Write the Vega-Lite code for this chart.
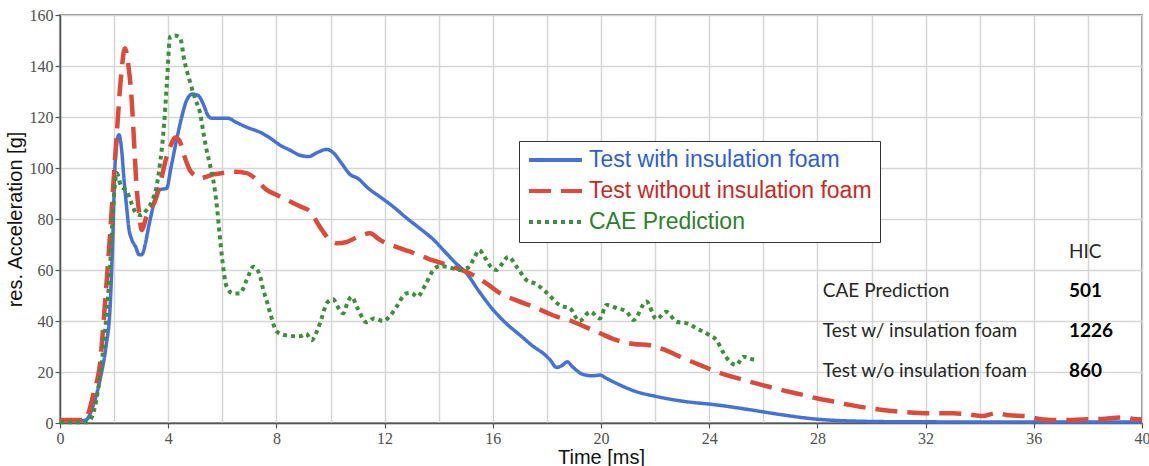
{
  "$schema": "https://vega.github.io/schema/vega-lite/v6.json",
  "width": 1082,
  "height": 408,
  "autosize": {"type": "none"},
  "padding": {"left": 60, "top": 15, "right": 7, "bottom": 43},
  "background": "white",
  "config": {
    "view": {"stroke": "#8c8c8c", "strokeWidth": 2},
    "axis": {
      "gridColor": "#d6d6d6",
      "gridWidth": 1.5,
      "domainColor": "#555555",
      "domainWidth": 1.5,
      "tickColor": "#555555",
      "tickWidth": 1.2,
      "tickSize": 5,
      "labelFont": "Liberation Sans Narrow",
      "labelFontSize": 16,
      "labelColor": "#505050",
      "labelPadding": 2,
      "titleFont": "Liberation Sans",
      "titleFontSize": 20,
      "titleFontWeight": "normal",
      "titleColor": "#111111"
    }
  },
  "datasets": {
    "blue": [
      {"time": 0, "acc": 1}, {"time": 0.9, "acc": 1}, {"time": 1.0, "acc": 1.5}, {"time": 1.2, "acc": 6}, {"time": 1.48, "acc": 17},
      {"time": 1.7, "acc": 30}, {"time": 1.85, "acc": 45}, {"time": 1.95, "acc": 72}, {"time": 2.03, "acc": 100}, {"time": 2.1, "acc": 110},
      {"time": 2.18, "acc": 113}, {"time": 2.28, "acc": 107}, {"time": 2.37, "acc": 95}, {"time": 2.46, "acc": 85}, {"time": 2.55, "acc": 76},
      {"time": 2.65, "acc": 72}, {"time": 2.8, "acc": 69}, {"time": 2.92, "acc": 66}, {"time": 3.02, "acc": 66}, {"time": 3.15, "acc": 70},
      {"time": 3.26, "acc": 76}, {"time": 3.4, "acc": 83}, {"time": 3.57, "acc": 90}, {"time": 3.7, "acc": 91.5}, {"time": 3.94, "acc": 92},
      {"time": 4.1, "acc": 100}, {"time": 4.31, "acc": 111}, {"time": 4.5, "acc": 120}, {"time": 4.68, "acc": 126.5}, {"time": 4.9, "acc": 129},
      {"time": 5.1, "acc": 128.5}, {"time": 5.3, "acc": 125}, {"time": 5.45, "acc": 121}, {"time": 5.6, "acc": 119.5}, {"time": 6.0, "acc": 119.5},
      {"time": 6.2, "acc": 119.5}, {"time": 6.5, "acc": 118}, {"time": 6.9, "acc": 116}, {"time": 7.4, "acc": 114}, {"time": 7.8, "acc": 111.5},
      {"time": 8.13, "acc": 109}, {"time": 8.5, "acc": 107}, {"time": 8.87, "acc": 105}, {"time": 9.2, "acc": 104.5}, {"time": 9.5, "acc": 106},
      {"time": 9.86, "acc": 107.3}, {"time": 10.1, "acc": 106}, {"time": 10.4, "acc": 102}, {"time": 10.72, "acc": 97.5}, {"time": 11.0, "acc": 96},
      {"time": 11.4, "acc": 92}, {"time": 11.83, "acc": 88.7}, {"time": 12.3, "acc": 85}, {"time": 12.8, "acc": 80.5}, {"time": 13.4, "acc": 75.5},
      {"time": 13.8, "acc": 72}, {"time": 14.2, "acc": 67.5}, {"time": 14.6, "acc": 63}, {"time": 15.03, "acc": 58.7}, {"time": 15.5, "acc": 51.5},
      {"time": 16.02, "acc": 44.3}, {"time": 16.5, "acc": 39}, {"time": 17.0, "acc": 34.5}, {"time": 17.5, "acc": 30}, {"time": 17.9, "acc": 27},
      {"time": 18.1, "acc": 25}, {"time": 18.36, "acc": 21.8}, {"time": 18.55, "acc": 22.5}, {"time": 18.75, "acc": 24}, {"time": 18.95, "acc": 22},
      {"time": 19.35, "acc": 19}, {"time": 19.7, "acc": 18.5}, {"time": 19.96, "acc": 18.8}, {"time": 20.2, "acc": 17.5}, {"time": 20.58, "acc": 15.5},
      {"time": 21.3, "acc": 12.3}, {"time": 22.0, "acc": 10.5}, {"time": 23.05, "acc": 8.5}, {"time": 24.27, "acc": 7.1}, {"time": 25.5, "acc": 5.2},
      {"time": 26.7, "acc": 3.2}, {"time": 27.97, "acc": 1.5}, {"time": 29.2, "acc": 0.8}, {"time": 31, "acc": 0.5}, {"time": 35, "acc": 0.4},
      {"time": 40, "acc": 0.4}
    ],
    "red": [
      {"time": 0, "acc": 1.2}, {"time": 0.95, "acc": 1.2}, {"time": 1.05, "acc": 3.8}, {"time": 1.25, "acc": 12}, {"time": 1.48, "acc": 23.4},
      {"time": 1.65, "acc": 45}, {"time": 1.85, "acc": 74}, {"time": 2.0, "acc": 98}, {"time": 2.1, "acc": 113.6}, {"time": 2.25, "acc": 135},
      {"time": 2.4, "acc": 147}, {"time": 2.52, "acc": 141}, {"time": 2.65, "acc": 126.7}, {"time": 2.75, "acc": 108}, {"time": 2.83, "acc": 92.7},
      {"time": 2.93, "acc": 82}, {"time": 3.02, "acc": 75.7}, {"time": 3.2, "acc": 81}, {"time": 3.57, "acc": 88.7}, {"time": 3.75, "acc": 96},
      {"time": 3.94, "acc": 104.4}, {"time": 4.1, "acc": 109}, {"time": 4.25, "acc": 112}, {"time": 4.4, "acc": 111}, {"time": 4.5, "acc": 108.4},
      {"time": 4.65, "acc": 103}, {"time": 4.8, "acc": 99.2}, {"time": 5.0, "acc": 97}, {"time": 5.18, "acc": 96}, {"time": 5.4, "acc": 96.5},
      {"time": 5.67, "acc": 97.5}, {"time": 6.0, "acc": 98}, {"time": 6.4, "acc": 98.5}, {"time": 6.9, "acc": 98}, {"time": 7.2, "acc": 96},
      {"time": 7.64, "acc": 91.4}, {"time": 8.0, "acc": 89.5}, {"time": 8.38, "acc": 87.5}, {"time": 8.87, "acc": 85}, {"time": 9.24, "acc": 83},
      {"time": 9.6, "acc": 77}, {"time": 9.98, "acc": 71.8}, {"time": 10.23, "acc": 70.5}, {"time": 10.6, "acc": 71}, {"time": 11.0, "acc": 73},
      {"time": 11.46, "acc": 74.4}, {"time": 11.8, "acc": 72}, {"time": 12.07, "acc": 70.5}, {"time": 12.5, "acc": 68.8}, {"time": 12.94, "acc": 67.2},
      {"time": 13.6, "acc": 64.5}, {"time": 14.3, "acc": 62}, {"time": 15.28, "acc": 58}, {"time": 15.8, "acc": 54.5}, {"time": 16.27, "acc": 50.9},
      {"time": 16.9, "acc": 48}, {"time": 17.5, "acc": 45.6}, {"time": 18.36, "acc": 41.7}, {"time": 18.9, "acc": 40}, {"time": 19.35, "acc": 38},
      {"time": 19.96, "acc": 35.2}, {"time": 20.58, "acc": 32.5}, {"time": 21.2, "acc": 31}, {"time": 21.8, "acc": 30.5}, {"time": 22.4, "acc": 28.5},
      {"time": 23.05, "acc": 25.4}, {"time": 23.6, "acc": 23}, {"time": 24.27, "acc": 20.1}, {"time": 24.9, "acc": 18}, {"time": 25.5, "acc": 16.2},
      {"time": 26.1, "acc": 14.5}, {"time": 26.7, "acc": 12.9}, {"time": 27.36, "acc": 11.3}, {"time": 27.97, "acc": 9.7}, {"time": 28.6, "acc": 8.4},
      {"time": 29.2, "acc": 7.1}, {"time": 29.8, "acc": 6}, {"time": 30.4, "acc": 5.1}, {"time": 31.2, "acc": 4.3}, {"time": 32.04, "acc": 3.8},
      {"time": 33, "acc": 3.8}, {"time": 33.5, "acc": 3.5}, {"time": 34.1, "acc": 2.7}, {"time": 34.6, "acc": 3.8}, {"time": 35.1, "acc": 3},
      {"time": 35.7, "acc": 2.7}, {"time": 36.1, "acc": 1.8}, {"time": 36.6, "acc": 1.2}, {"time": 37.2, "acc": 1.2}, {"time": 37.8, "acc": 1.4},
      {"time": 38.5, "acc": 1.6}, {"time": 39.3, "acc": 2.2}, {"time": 39.7, "acc": 1.6}, {"time": 40, "acc": 1.4}
    ],
    "green": [
      {"time": 0, "acc": 0.3}, {"time": 1.0, "acc": 0.3}, {"time": 1.2, "acc": 3}, {"time": 1.5, "acc": 20}, {"time": 1.7, "acc": 40},
      {"time": 1.85, "acc": 61}, {"time": 1.97, "acc": 85}, {"time": 2.1, "acc": 98}, {"time": 2.25, "acc": 93}, {"time": 2.46, "acc": 91},
      {"time": 2.65, "acc": 86}, {"time": 2.83, "acc": 82}, {"time": 3.0, "acc": 81.5}, {"time": 3.2, "acc": 83.5}, {"time": 3.4, "acc": 87},
      {"time": 3.57, "acc": 92.7}, {"time": 3.7, "acc": 102}, {"time": 3.82, "acc": 113.6}, {"time": 3.95, "acc": 133}, {"time": 4.07, "acc": 151.5},
      {"time": 4.25, "acc": 152}, {"time": 4.44, "acc": 151}, {"time": 4.6, "acc": 142}, {"time": 4.8, "acc": 134}, {"time": 5.0, "acc": 127},
      {"time": 5.18, "acc": 121.5}, {"time": 5.3, "acc": 114}, {"time": 5.42, "acc": 107}, {"time": 5.55, "acc": 101}, {"time": 5.67, "acc": 95},
      {"time": 5.8, "acc": 85}, {"time": 5.9, "acc": 74}, {"time": 6.0, "acc": 64}, {"time": 6.16, "acc": 53.5}, {"time": 6.4, "acc": 50.8},
      {"time": 6.65, "acc": 50.8}, {"time": 6.9, "acc": 56}, {"time": 7.15, "acc": 61.3}, {"time": 7.3, "acc": 60}, {"time": 7.4, "acc": 57.4},
      {"time": 7.52, "acc": 52}, {"time": 7.64, "acc": 48}, {"time": 7.8, "acc": 42}, {"time": 8.0, "acc": 36}, {"time": 8.3, "acc": 34.5},
      {"time": 8.87, "acc": 34}, {"time": 9.1, "acc": 35}, {"time": 9.3, "acc": 32.5}, {"time": 9.5, "acc": 36}, {"time": 9.7, "acc": 42},
      {"time": 9.86, "acc": 47}, {"time": 10.1, "acc": 48.5}, {"time": 10.3, "acc": 45}, {"time": 10.47, "acc": 43}, {"time": 10.62, "acc": 47},
      {"time": 10.78, "acc": 49.5}, {"time": 11.0, "acc": 45}, {"time": 11.33, "acc": 39.5}, {"time": 11.6, "acc": 41}, {"time": 11.95, "acc": 40},
      {"time": 12.2, "acc": 42}, {"time": 12.44, "acc": 45.6}, {"time": 12.8, "acc": 50.8}, {"time": 13.0, "acc": 51}, {"time": 13.2, "acc": 49.5},
      {"time": 13.5, "acc": 54}, {"time": 13.8, "acc": 60}, {"time": 14.05, "acc": 61.5}, {"time": 14.3, "acc": 61.3}, {"time": 14.79, "acc": 60},
      {"time": 15.1, "acc": 61}, {"time": 15.28, "acc": 64}, {"time": 15.5, "acc": 67.8}, {"time": 15.7, "acc": 65}, {"time": 15.95, "acc": 61},
      {"time": 16.14, "acc": 60}, {"time": 16.35, "acc": 62.5}, {"time": 16.57, "acc": 65.2}, {"time": 16.9, "acc": 61}, {"time": 17.25, "acc": 56},
      {"time": 17.6, "acc": 54.5}, {"time": 18.0, "acc": 51}, {"time": 18.5, "acc": 46}, {"time": 18.85, "acc": 45}, {"time": 19.2, "acc": 40},
      {"time": 19.6, "acc": 43.6}, {"time": 19.96, "acc": 41}, {"time": 20.2, "acc": 46.3}, {"time": 20.6, "acc": 45}, {"time": 20.95, "acc": 43.6},
      {"time": 21.2, "acc": 40.4}, {"time": 21.68, "acc": 47.6}, {"time": 22.05, "acc": 40.7}, {"time": 22.4, "acc": 43.6}, {"time": 22.8, "acc": 39.7},
      {"time": 23.2, "acc": 39}, {"time": 23.54, "acc": 37.1}, {"time": 24.0, "acc": 34.5}, {"time": 24.27, "acc": 32.5}, {"time": 24.5, "acc": 28},
      {"time": 24.77, "acc": 24}, {"time": 25.0, "acc": 22.7}, {"time": 25.26, "acc": 26}, {"time": 25.5, "acc": 25.2}, {"time": 25.8, "acc": 24.7}
    ],
    "table": [
      {"label": "CAE Prediction", "hic": "501"},
      {"label": "Test w/ insulation foam", "hic": "1226"},
      {"label": "Test w/o insulation foam", "hic": "860"}
    ]
  },
  "layer": [
    {
      "data": {"name": "blue"},
      "mark": {"type": "line", "strokeWidth": 3.5, "interpolate": "monotone"},
      "encoding": {
        "x": {
          "field": "time", "type": "quantitative",
          "scale": {"domain": [0, 40], "nice": false},
          "title": "Time [ms]",
          "axis": {
            "values": [0, 2, 4, 6, 8, 10, 12, 14, 16, 18, 20, 22, 24, 26, 28, 30, 32, 34, 36, 38, 40],
            "labelExpr": "datum.value % 4 == 0 ? datum.label : ''",
            "tickOpacity": {"condition": {"test": "datum.value % 4 == 0", "value": 1}, "value": 0},
            "labelFlush": false,
            "labelOverlap": false,
            "titlePadding": 1
          }
        },
        "y": {
          "field": "acc", "type": "quantitative",
          "scale": {"domain": [0, 160], "nice": false},
          "title": "res. Acceleration [g]",
          "axis": {
            "values": [0, 10, 20, 30, 40, 50, 60, 70, 80, 90, 100, 110, 120, 130, 140, 150, 160],
            "labelExpr": "datum.value % 20 == 0 ? datum.label : ''",
            "tickOpacity": {"condition": {"test": "datum.value % 20 == 0", "value": 1}, "value": 0},
            "labelFlush": false,
            "labelOverlap": false,
            "titlePadding": 4
          }
        },
        "color": {"datum": "Test with insulation foam", "type": "nominal",
          "scale": {"domain": ["Test with insulation foam", "Test without insulation foam", "CAE Prediction"], "range": ["#4472d6", "#dc4a3a", "#3e8e3e"]},
          "legend": {
            "orient": "none", "legendX": 459, "legendY": 126, "title": null,
            "symbolType": "stroke", "symbolSize": 2809, "symbolStrokeWidth": 4, "clipHeight": 22,
            "labelFont": "Liberation Sans", "labelFontSize": 23, "labelOffset": 5, "rowPadding": 8,
            "labelLimit": 400,
            "labelColor": {"expr": "datum.label == 'Test with insulation foam' ? '#2f5fd0' : (datum.label == 'Test without insulation foam' ? '#c92a1f' : '#2f7f2f')"},
            "padding": 8, "fillColor": "white", "strokeColor": "#333333"
          }},
        "strokeDash": {"datum": "Test with insulation foam", "type": "nominal",
          "scale": {"domain": ["Test with insulation foam", "Test without insulation foam", "CAE Prediction"], "range": [[1, 0], [22, 10], [4, 4]]},
          "legend": null}
      }
    },
    {
      "data": {"name": "red"},
      "mark": {"type": "line", "strokeWidth": 4.5, "interpolate": "monotone"},
      "encoding": {
        "x": {"field": "time", "type": "quantitative"},
        "y": {"field": "acc", "type": "quantitative"},
        "color": {"datum": "Test without insulation foam", "type": "nominal"},
        "strokeDash": {"datum": "Test without insulation foam", "type": "nominal"}
      }
    },
    {
      "data": {"name": "green"},
      "mark": {"type": "line", "strokeWidth": 4, "interpolate": "monotone"},
      "encoding": {
        "x": {"field": "time", "type": "quantitative"},
        "y": {"field": "acc", "type": "quantitative"},
        "color": {"datum": "CAE Prediction", "type": "nominal"},
        "strokeDash": {"datum": "CAE Prediction", "type": "nominal"}
      }
    },
    {
      "data": {"values": [{"txt": "HIC"}]},
      "mark": {"type": "text", "align": "left", "baseline": "middle", "font": "Lato", "fontSize": 19, "fill": "#262626"},
      "encoding": {"x": {"datum": 37.3, "type": "quantitative"}, "y": {"datum": 67.1, "type": "quantitative"}, "text": {"field": "txt", "type": "nominal"}}
    },
    {
      "data": {"name": "table"},
      "transform": [{"filter": "datum.label == 'CAE Prediction'"}],
      "mark": {"type": "text", "align": "left", "baseline": "middle", "font": "Lato", "fontSize": 19, "fill": "#262626"},
      "encoding": {"x": {"datum": 28.2, "type": "quantitative"}, "y": {"datum": 51.9, "type": "quantitative"}, "text": {"field": "label", "type": "nominal"}}
    },
    {
      "data": {"name": "table"},
      "transform": [{"filter": "datum.label == 'CAE Prediction'"}],
      "mark": {"type": "text", "align": "left", "baseline": "middle", "font": "Lato", "fontSize": 19, "fontWeight": "bold", "fill": "#000000"},
      "encoding": {"x": {"datum": 37.3, "type": "quantitative"}, "y": {"datum": 51.9, "type": "quantitative"}, "text": {"field": "hic", "type": "nominal"}}
    },
    {
      "data": {"name": "table"},
      "transform": [{"filter": "datum.label == 'Test w/ insulation foam'"}],
      "mark": {"type": "text", "align": "left", "baseline": "middle", "font": "Lato", "fontSize": 19, "fill": "#262626"},
      "encoding": {"x": {"datum": 28.2, "type": "quantitative"}, "y": {"datum": 36.2, "type": "quantitative"}, "text": {"field": "label", "type": "nominal"}}
    },
    {
      "data": {"name": "table"},
      "transform": [{"filter": "datum.label == 'Test w/ insulation foam'"}],
      "mark": {"type": "text", "align": "left", "baseline": "middle", "font": "Lato", "fontSize": 19, "fontWeight": "bold", "fill": "#000000"},
      "encoding": {"x": {"datum": 37.3, "type": "quantitative"}, "y": {"datum": 36.2, "type": "quantitative"}, "text": {"field": "hic", "type": "nominal"}}
    },
    {
      "data": {"name": "table"},
      "transform": [{"filter": "datum.label == 'Test w/o insulation foam'"}],
      "mark": {"type": "text", "align": "left", "baseline": "middle", "font": "Lato", "fontSize": 19, "fill": "#262626"},
      "encoding": {"x": {"datum": 28.2, "type": "quantitative"}, "y": {"datum": 20.5, "type": "quantitative"}, "text": {"field": "label", "type": "nominal"}}
    },
    {
      "data": {"name": "table"},
      "transform": [{"filter": "datum.label == 'Test w/o insulation foam'"}],
      "mark": {"type": "text", "align": "left", "baseline": "middle", "font": "Lato", "fontSize": 19, "fontWeight": "bold", "fill": "#000000"},
      "encoding": {"x": {"datum": 37.3, "type": "quantitative"}, "y": {"datum": 20.5, "type": "quantitative"}, "text": {"field": "hic", "type": "nominal"}}
    }
  ]
}
